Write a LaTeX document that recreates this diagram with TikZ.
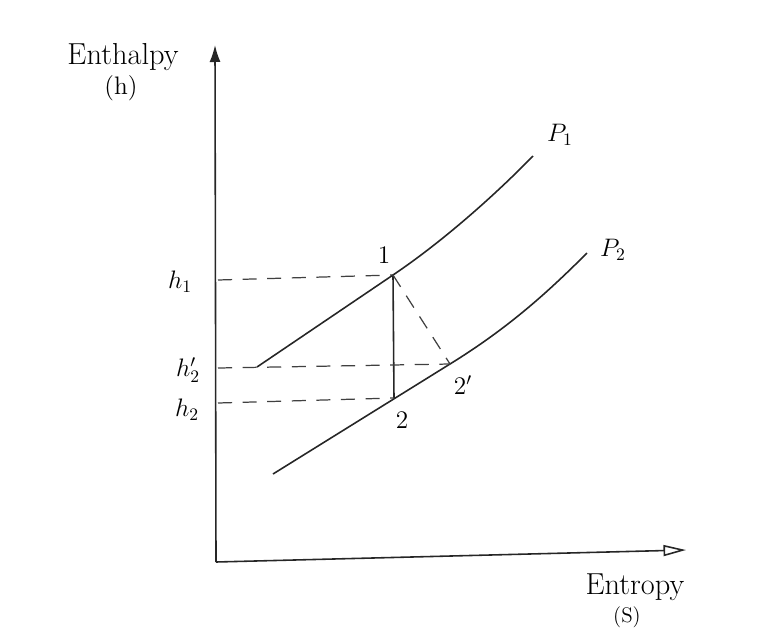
\documentclass[tikz,border=0pt]{standalone}
\usetikzlibrary{arrows.meta,positioning}
\begin{document}
\begin{tikzpicture}[
  x=0.02cm, y=-0.02cm,
  font=\Large,
  line/.style={line width=0.9pt, black!85},
  guide/.style={dash pattern=on 8pt off 6pt, line width=0.7pt, black!75},
  lab/.style={font=\Large, inner sep=1pt},
  axislab/.style={font=\LARGE, inner sep=1pt},
]
\useasboundingbox (0,0) rectangle (779,633);
% axes
\coordinate (o) at (216,562);
\coordinate (ytop) at (215,45);
\coordinate (xend) at (686,550);
\draw[line, -{Latex[length=3.4mm,width=2.2mm]}] (o) -- (ytop);
\draw[line, -{Triangle[open,length=4.5mm,width=2.2mm]}] (o) -- (xend);
\node[axislab] (ylab) at (123,57) {Enthalpy};
\node[lab] (yunit) at (121,88) {(h)};
\node[axislab] (xlab) at (635,587) {Entropy};
\node[lab, font=\large] (xunit) at (627,617) {(S)};
% states
\coordinate (s1) at (393,275);
\coordinate (s2) at (394,398);
\coordinate (s2p) at (450,364);
% isobars
\coordinate (a1) at (257,367);
\coordinate (b1) at (533,156);
\coordinate (a2) at (273,474);
\coordinate (b2) at (587,253);
\draw[line] (a1) -- (s1) .. controls (442,242) and (494,196) .. (b1);
\draw[line] (a2) -- (s2p) .. controls (510,327) and (550,290) .. (b2);
\node[lab] (p1lab) at (560,135) {$P_1$};
\node[lab] (p2lab) at (613,250) {$P_2$};
% expansion
\draw[line] (s1) -- (s2);
\draw[guide] (s1) -- (s2p);
% enthalpy levels
\coordinate (h1) at (218,280);
\coordinate (h2p) at (218,368);
\coordinate (h2) at (218,403);
\foreach \a/\b in {h1/s1, h2p/s2p, h2/s2} \draw[guide] (\a) -- (\b);
\node[lab] (h1lab) at (180,282) {$h_1$};
\node[lab] (h2plab) at (188,370) {$h_2'$};
\node[lab] (h2lab) at (187,410) {$h_2$};
\node[lab] (s1lab) at (384,255) {1};
\node[lab] (s2lab) at (402,420) {2};
\node[lab] (s2plab) at (463,385) {$2'$};
\end{tikzpicture}
\end{document}
